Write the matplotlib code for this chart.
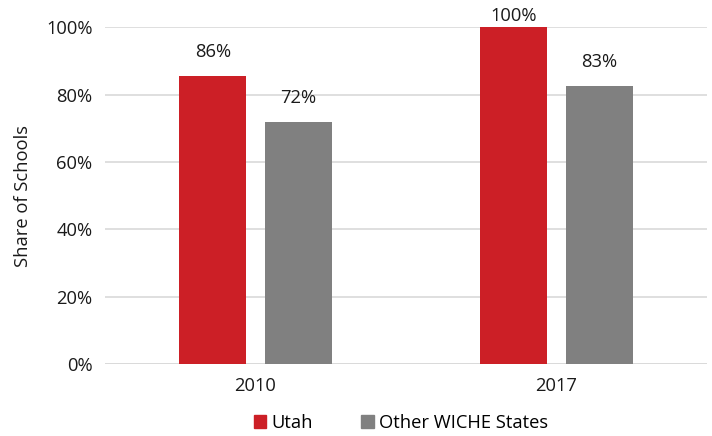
import matplotlib
matplotlib.use("Agg")
import matplotlib.pyplot as plt
from matplotlib.ticker import PercentFormatter
from matplotlib.patches import Patch
import numpy as np

categories = ["2010", "2017"]
series_names = ["Utah", "Other WICHE States"]
utah = [0.857, 1.00]
other = [0.72, 0.827]
utah_labels = ["86%", "100%"]
other_labels = ["72%", "83%"]
yticks = [0, 0.2, 0.4, 0.6, 0.8, 1.0]

colors = ["#CC1F26", "#808080"]

plt.rcParams['font.family'] = ['Open Sans', 'DejaVu Sans']
FS = 13.2

fig = plt.figure(figsize=(7.12, 4.36), dpi=100)
ax = fig.add_axes([105/712, 1 - 364/436, 602/712, 336.5/436])

x = np.arange(len(categories))
w = 0.223
off = 0.142
b1 = ax.bar(x - off, utah, w, color=colors[0], zorder=3)
b2 = ax.bar(x + off, other, w, color=colors[1], zorder=3)

for bars, labels in ((b1, utah_labels), (b2, other_labels)):
    for rect, lab in zip(bars, labels):
        h = rect.get_height()
        dy = 8.5 if h >= 0.99 else 17
        ax.annotate(lab, (rect.get_x() + rect.get_width() / 2, h),
                    xytext=(0, dy), textcoords="offset points",
                    ha="center", va="center", fontsize=FS, color="#1a1a1a")

ax.set_xlim(-0.5, 1.5)
ax.set_ylim(0, 1.0)
ax.set_yticks(yticks)
ax.yaxis.set_major_formatter(PercentFormatter(1.0, decimals=0))
ax.set_xticks(x)
ax.set_xticklabels(categories)
ax.tick_params(axis="both", length=0, labelsize=FS, colors="#1a1a1a")
ax.tick_params(axis="y", pad=9)
ax.tick_params(axis="x", pad=9)
ax.grid(axis="y", color="#D9D9D9", linewidth=1.2, zorder=0)
for s in ax.spines.values():
    s.set_visible(False)
ax.axhline(0, color="#D9D9D9", linewidth=1.2, zorder=1)

ax.set_ylabel("Share of Schools", fontsize=FS, color="#1a1a1a", labelpad=10)

handles = [Patch(color=colors[0], label=series_names[0]),
           Patch(color=colors[1], label=series_names[1])]
fig.legend(handles=handles, loc="center", bbox_to_anchor=(401/712, 1 - 423/436),
           ncol=2, frameon=False, fontsize=FS, handlelength=0.7, handleheight=0.7,
           handletextpad=0.3, columnspacing=2.6)

fig.savefig("out.png", dpi=100)
